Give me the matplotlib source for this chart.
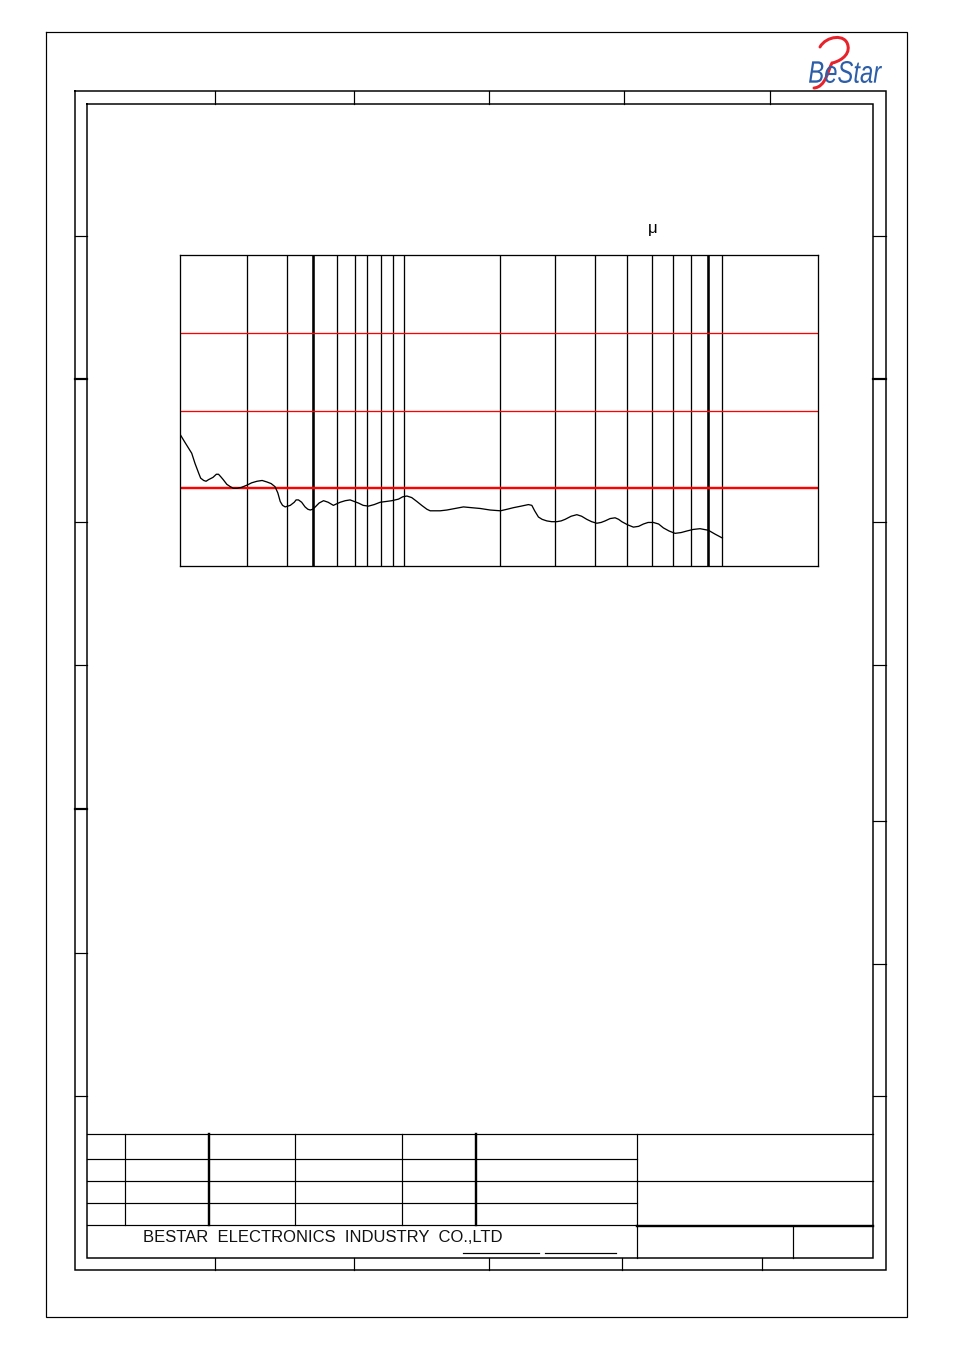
import matplotlib
matplotlib.use("Agg")
import matplotlib.pyplot as plt
from matplotlib.path import Path
from matplotlib.patches import PathPatch
from matplotlib.textpath import TextPath
from matplotlib.font_manager import FontProperties
from matplotlib.transforms import Affine2D

# frequency response (Hz, dB)
freq = [184, 190, 200, 205, 211, 214, 219, 223, 227, 235, 241, 245, 249, 254,
        261, 268, 274, 282, 291, 304, 315, 328, 341, 354, 365, 376, 384, 391,
        398, 406, 414, 422, 435, 441, 449, 460, 472, 482, 491, 500, 510, 525,
        543, 562, 585, 600, 616, 640, 664, 685, 707, 733, 763, 797, 834, 873,
        911, 934, 958, 989, 1021, 1059, 1101, 1142, 1188, 1218, 1248, 1314,
        1382, 1472, 1567, 1667, 1778, 1919, 2074, 2182, 2288, 2426, 2564, 2631,
        2688, 2766, 2845, 2947, 3057, 3179, 3285, 3385, 3543, 3700, 3837, 3990,
        4139, 4304, 4446, 4584, 4761, 4944, 5078, 5202, 5436, 5679, 5908, 6127,
        6347, 6607, 6876, 7129, 7443, 7788, 8151, 8512, 8927, 9412, 9701, 10020,
        10544, 11144]
level = [76.8, 75.9, 74.5, 73.2, 71.9, 71.3, 71.0, 70.9, 71.1, 71.4, 71.8, 71.8,
         71.5, 71.1, 70.5, 70.2, 70.0, 70.0, 70.1, 70.4, 70.7, 70.9, 71.0, 70.8,
         70.6, 70.2, 69.4, 68.3, 67.8, 67.6, 67.7, 67.8, 68.2, 68.5, 68.5, 68.2,
         67.6, 67.3, 67.2, 67.3, 67.6, 68.1, 68.4, 68.2, 67.8, 68.0, 68.2, 68.4,
         68.5, 68.3, 68.1, 67.8, 67.7, 67.9, 68.2, 68.3, 68.4, 68.5, 68.6, 68.9,
         69.0, 68.8, 68.3, 67.8, 67.3, 67.1, 67.1, 67.1, 67.2, 67.4, 67.6, 67.5,
         67.4, 67.2, 67.1, 67.3, 67.5, 67.7, 67.9, 67.8, 67.1, 66.3, 66.0, 65.8,
         65.7, 65.7, 65.8, 66.0, 66.4, 66.6, 66.4, 66.0, 65.7, 65.5, 65.6, 65.8,
         66.1, 66.2, 66.0, 65.7, 65.3, 65.0, 65.1, 65.4, 65.6, 65.6, 65.4, 64.9,
         64.5, 64.2, 64.3, 64.5, 64.7, 64.8, 64.7, 64.6, 64.1, 63.6]

# chart grid
x_range = [183, 23000]
y_range = [60, 100]
grid_freq = [304, 413, 603, 691, 757, 842, 922, 1000, 2070, 3140, 4250, 5415,
             6545, 7670, 8795, 11120]
bold_freq = [501, 9980]
grid_level = [80, 90]
ref_level = 70

company = "BESTAR  ELECTRONICS  INDUSTRY  CO.,LTD"

W, H = 954, 1351
PX = 0.72  # points per pixel at 100 dpi

fig = plt.figure(figsize=(W / 100, H / 100), dpi=100)

# drawing sheet in pixel coordinates
frame = fig.add_axes([0, 0, 1, 1])
frame.set_xlim(0, W)
frame.set_ylim(H, 0)
frame.axis("off")


def rect(x0, y0, x1, y1, lw):
    frame.plot([x0, x1, x1, x0, x0], [y0, y0, y1, y1, y0], color="black",
               lw=lw * PX, solid_joinstyle="miter")


def hline(y, x0, x1, lw=1.2):
    frame.plot([x0, x1], [y, y], color="black", lw=lw * PX)


def vline(x, y0, y1, lw=1.2):
    frame.plot([x, x], [y0, y1], color="black", lw=lw * PX)


rect(46, 32, 907, 1317, 1.2)
rect(75, 91, 886, 1270, 1.5)
rect(87, 104, 873, 1258, 1.5)

for x in [215, 354, 489, 624, 770]:
    vline(x, 91, 104)
for x in [215, 354, 489, 622, 762]:
    vline(x, 1258, 1270)
for y in [236, 379, 522, 665, 809, 953, 1096]:
    hline(y, 75, 87, 2.2 if y in (379, 809) else 1.2)
for y in [236, 379, 522, 665, 821, 964, 1096]:
    hline(y, 873, 886, 2.2 if y == 379 else 1.2)

# title block
hline(1134, 87, 873)
for y in [1159, 1181, 1203, 1225]:
    hline(y, 87, 637)
hline(1181, 637, 873)
hline(1226, 637, 873, 2.4)
for x, lw in [(125, 1.2), (209, 2.4), (295, 1.2), (402, 1.2), (476, 2.4)]:
    vline(x, 1134, 1225, lw)
vline(637, 1134, 1258)
vline(793, 1226, 1258)
hline(1253, 463, 539)
hline(1253, 545, 616)
frame.text(143, 1238, company, fontsize=12, family="Liberation Sans",
           ha="left", va="center", color="#111111")

# logo
swirl = Path([(820, 47), (826, 36), (846, 33), (848, 46),
              (850, 56), (838, 62), (832, 63),
              (828, 70), (826, 87), (814, 88)],
             [Path.MOVETO, Path.CURVE4, Path.CURVE4, Path.CURVE4,
              Path.CURVE4, Path.CURVE4, Path.CURVE4,
              Path.CURVE4, Path.CURVE4, Path.CURVE4])
frame.add_patch(PathPatch(swirl, fill=False, edgecolor="#e8222b", lw=3.0 * PX,
                          capstyle="round"))
tp = TextPath((0, 0), "BeStar", size=1,
              prop=FontProperties(family="Liberation Sans", style="italic"))
bb = tp.get_extents()
tr = (Affine2D().translate(-bb.x0, -bb.y0)
      .scale(73 / bb.width, -22 / bb.height)
      .translate(809, 83) + frame.transData)
frame.add_patch(PathPatch(tp, transform=tr, facecolor="#2d5ea8",
                          edgecolor="none"))

frame.text(653, 229, "\u03bc", fontsize=12, family="Liberation Sans",
           ha="center", va="center", color="black")

# response chart
ax = fig.add_axes([180 / W, 1 - 566 / H, 638 / W, 311 / H])
ax.set_xscale("log")
ax.set_xlim(x_range)
ax.set_ylim(y_range)
ax.vlines(grid_freq, *y_range, colors="black", lw=1.3 * PX)
ax.vlines(bold_freq, *y_range, colors="black", lw=2.6 * PX)
ax.hlines(grid_level, *x_range, colors="red", lw=1.3 * PX)
ax.hlines(ref_level, *x_range, colors="red", lw=2.4 * PX)
ax.plot(freq, level, color="black", lw=1.3 * PX)
ax.set_xticks([])
ax.set_yticks([])
ax.minorticks_off()
for s in ax.spines.values():
    s.set_linewidth(1.3 * PX)

fig.savefig("out.png", dpi=100)
